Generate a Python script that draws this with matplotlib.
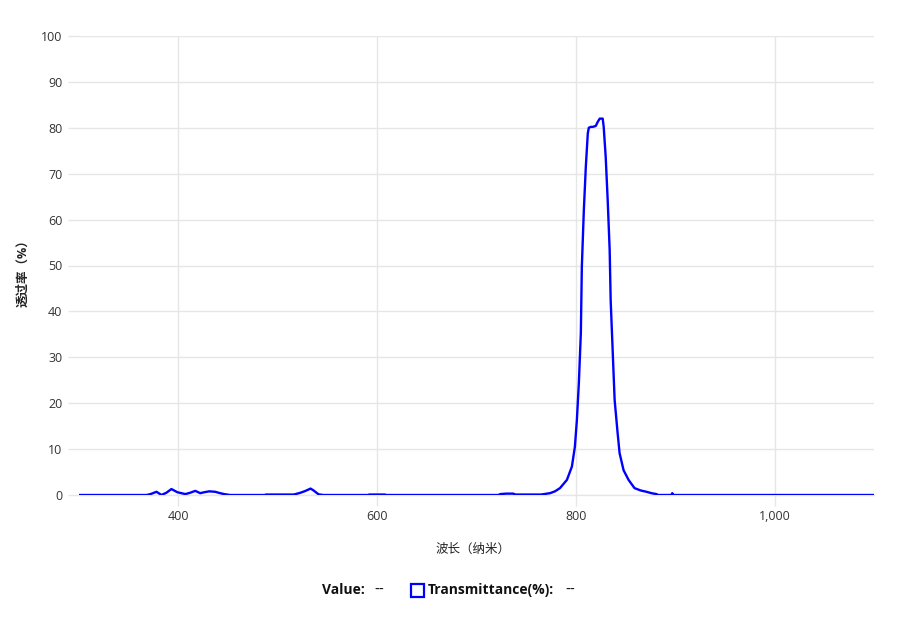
import matplotlib
matplotlib.use("Agg")
import matplotlib.pyplot as plt
from matplotlib.patches import Rectangle
from matplotlib.ticker import FuncFormatter

plt.rcParams['font.family'] = ['Open Sans', 'Noto Sans CJK SC', 'DejaVu Sans']

# Data (wavelength nm, transmittance %)
wavelength = [300, 368, 372, 378, 383, 388, 393, 399, 407, 412, 417, 422, 426,
              431, 437, 442, 446, 452, 487, 488, 516, 518, 523, 528, 533, 536,
              541, 546, 591, 592, 608, 609, 722, 724, 730, 737, 739, 765, 774,
              779, 784, 791, 796, 799, 801, 803, 805, 806, 808, 810, 812, 813,
              815, 817, 820, 822, 824, 827, 828, 830, 832, 834, 835, 837, 839,
              842, 844, 848, 853, 859, 865, 871, 876, 881, 883, 896, 897, 898,
              899, 1100]
transmittance = [0.0, 0.0, 0.2, 0.7, 0.0, 0.5, 1.3, 0.6, 0.2, 0.5, 0.9, 0.4, 0.6,
                 0.8, 0.7, 0.4, 0.2, 0.0, 0.0, 0.1, 0.1, 0.2, 0.5, 0.9, 1.4, 1.0,
                 0.15, 0.0, 0.0, 0.1, 0.1, 0.0, 0.0, 0.2, 0.3, 0.3, 0.1, 0.1, 0.4,
                 0.8, 1.5, 3.3, 6.2, 10.5, 16.3, 24.4, 35.3, 49.7, 62.0, 71.5, 78.8, 80.0,
                 80.2, 80.2, 80.4, 81.3, 82.0, 82.0, 80.2, 73.7, 64.3, 53.4, 42.5, 31.6, 20.7,
                 13.5, 9.1, 5.4, 3.3, 1.5, 1.0, 0.7, 0.4, 0.2, 0.0, 0.0, 0.4, 0.0,
                 0.0, 0.0]

x_ticks = [400, 600, 800, 1000]
y_ticks = list(range(0, 101, 10))

W, H = 911, 621
fig = plt.figure(figsize=(W / 100, H / 100), dpi=100)
ax = fig.add_axes([79 / W, 1 - 495 / H, 795 / W, 459 / H])

grid_c = '#e6e6e6'
ax.plot(wavelength, transmittance, color='#0000ff', lw=1.7, zorder=3,
        solid_joinstyle='round')
ax.set_xlim(300, 1100)
ax.set_ylim(0, 100)
ax.set_xticks(x_ticks)
ax.set_yticks(y_ticks)
ax.xaxis.set_major_formatter(FuncFormatter(lambda v, p: f"{int(v):,}"))
ax.grid(True, color=grid_c, lw=1.0, zorder=0)
for s in ['top', 'right', 'left']:
    ax.spines[s].set_visible(False)
ax.spines['bottom'].set_color(grid_c)
ax.spines['bottom'].set_linewidth(1.0)
ax.tick_params(axis='both', colors=grid_c, length=8, width=1.0,
               labelcolor='#333333', labelsize=9)
ax.tick_params(axis='y', pad=4)
ax.tick_params(axis='x', pad=3)

ax.set_xlabel('波长（纳米）', fontsize=9, color='#222222')
ax.xaxis.set_label_coords((473 - 79) / 795, (495 - 543) / 459)
ax.set_ylabel('透过率（%）', fontsize=9, color='#222222', fontweight='bold')
ax.yaxis.set_label_coords((29 - 79) / 795, 0.5 - (270 - 265.5) / 459)

# Legend-like footer
def fx(px):
    return px / W

def fy(py):
    return 1 - py / H

fs = 10
dash_font = ['DejaVu Sans']
fig.text(fx(322), fy(590), 'Value:', fontsize=fs, fontweight='bold',
         ha='left', va='center', color='#111111')
fig.text(fx(374), fy(590), '--', fontsize=fs, family=dash_font,
         ha='left', va='center', color='#111111')
fig.patches.append(Rectangle((fx(411), fy(597)), 13 / W, 13 / H,
                             transform=fig.transFigure, fill=False,
                             edgecolor='#0000ff', lw=1.6))
fig.text(fx(428), fy(590), 'Transmittance(%):', fontsize=fs, fontweight='bold',
         ha='left', va='center', color='#111111')
fig.text(fx(565), fy(590), '--', fontsize=fs, family=dash_font,
         ha='left', va='center', color='#111111')

fig.savefig('out.png', dpi=100)
